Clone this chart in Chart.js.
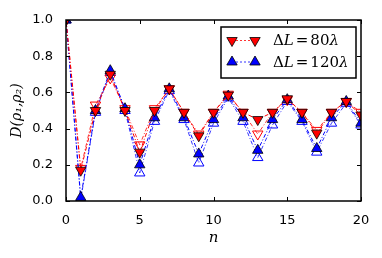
<!DOCTYPE html>
<html><head><meta charset="utf-8">
<script src="https://cdn.jsdelivr.net/npm/chart.js@4"></script>
<style>html,body{margin:0;padding:0;background:#fff}#wrap{width:382px;height:258px}</style>
</head><body><div id="wrap"><canvas id="c" width="382" height="258"></canvas></div>
<script>
const nValues = [0,1,2,3,4,5,6,7,8,9,10,11,12,13,14,15,16,17,18,19,20];
const red80Filled  = [1.0,0.17,0.50,0.70,0.50,0.27,0.50,0.62,0.49,0.36,0.49,0.585,0.49,0.45,0.49,0.565,0.49,0.375,0.49,0.55,0.475];
const red80Hollow  = [1.0,0.18,0.53,0.68,0.51,0.31,0.51,0.62,0.49,0.37,0.49,0.59,0.49,0.37,0.49,0.56,0.49,0.39,0.49,0.55,0.49];
const blue120Filled = [1.0,0.02,0.50,0.72,0.51,0.20,0.46,0.62,0.46,0.26,0.45,0.58,0.46,0.28,0.45,0.56,0.45,0.29,0.46,0.55,0.43];
const blue120Hollow = [1.0,0.01,0.49,0.71,0.50,0.155,0.44,0.61,0.45,0.21,0.43,0.57,0.44,0.24,0.42,0.55,0.44,0.27,0.43,0.54,0.42];
const yTicks = [0.0,0.2,0.4,0.6,0.8,1.0];
const xTicks = [0,5,10,15,20];
const legendLabels = [['Δ','L','=','80','λ'],['Δ','L','=','120','λ']];

const pts = arr => arr.map((v,i)=>({x:nValues[i],y:v}));
const dash = [4,2,1,2];
const R = 6;

function ds(data, color, filled, down, order){
  return {
    data: pts(data),
    borderColor: color,
    borderWidth: filled ? 1 : 0.8,
    borderDash: dash,
    pointStyle: 'triangle',
    pointRotation: down ? 180 : 0,
    pointRadius: R,
    pointBackgroundColor: filled ? color : 'rgba(255,255,255,0)',
    pointBorderColor: filled ? '#000' : color,
    pointBorderWidth: filled ? 0.8 : 1,
    fill: false,
    tension: 0,
    order: order
  };
}

const framePlugin = {
  id:'frame',
  afterDraw(chart){
    const {ctx, chartArea:a, scales} = chart;
    ctx.save();
    ctx.strokeStyle='#000';
    ctx.lineWidth=1;
    const tl=4;
    ctx.beginPath();
    xTicks.forEach(v=>{
      const px=Math.round(scales.x.getPixelForValue(v))+0.5;
      ctx.moveTo(px,a.bottom); ctx.lineTo(px,a.bottom-tl);
      ctx.moveTo(px,a.top); ctx.lineTo(px,a.top+tl);
    });
    yTicks.forEach(v=>{
      const py=Math.round(scales.y.getPixelForValue(v))+0.5;
      ctx.moveTo(a.left,py); ctx.lineTo(a.left+tl,py);
      ctx.moveTo(a.right,py); ctx.lineTo(a.right-tl,py);
    });
    ctx.stroke();
    ctx.lineWidth=1.5;
    ctx.strokeRect(a.left,a.top,a.right-a.left,a.bottom-a.top);
    // legend
    const bw=135, bh=51;
    const bx=a.right-5-bw, by=a.top+7;
    ctx.fillStyle='#fff';
    ctx.fillRect(bx,by,bw,bh);
    ctx.lineWidth=1.5;
    ctx.strokeRect(bx,by,bw,bh);
    const rows=[{c:'#ff0000',down:true},{c:'#0000ff',down:false}];
    rows.forEach((r,i)=>{
      const cy=by+13.5+i*21.5;
      const m1=bx+11, m2=bx+34;
      ctx.save();
      ctx.strokeStyle=r.c; ctx.lineWidth=0.8; ctx.setLineDash([2,2]);
      ctx.beginPath(); ctx.moveTo(m1,cy); ctx.lineTo(m2,cy); ctx.stroke();
      ctx.restore();
      ctx.save();
      ctx.fillStyle=r.c; ctx.strokeStyle='#000'; ctx.lineWidth=0.8;
      [m1,m2].forEach(mx=>{
        ctx.beginPath();
        Chart.helpers.drawPoint(ctx,{pointStyle:'triangle',rotation:r.down?180:0,radius:R,borderWidth:0.8},mx,cy);
      });
      ctx.restore();
      let tx=bx+52;
      ctx.fillStyle='#000';
      ctx.textBaseline='middle';
      const parts=legendLabels[i];
      const fonts=['15px "DejaVu Serif"','italic 15px "DejaVu Serif"','15px "DejaVu Serif"','15px "DejaVu Serif"','italic 15px "DejaVu Serif"'];
      const gaps=[0,0,2,2,0];
      parts.forEach((p,k)=>{
        tx+=gaps[k];
        ctx.font=fonts[k];
        ctx.fillText(p,tx,cy+1);
        tx+=ctx.measureText(p).width;
      });
    });
    ctx.restore();
  }
};

new Chart(document.getElementById('c'),{
  type:'line',
  data:{datasets:[
    ds(red80Filled,'#ff0000',true,true,1),
    ds(blue120Filled,'#0000ff',true,false,2),
    ds(red80Hollow,'#ff0000',false,true,3),
    ds(blue120Hollow,'#0000ff',false,false,4)
  ]},
  options:{
    responsive:false,
    animation:false,
    layout:{padding:{top:20,right:21,left:0,bottom:0}},
    plugins:{legend:{display:false},tooltip:{enabled:false}},
    scales:{
      x:{type:'linear',min:0,max:20,
        afterBuildTicks(s){s.ticks=xTicks.map(v=>({value:v}));},
        afterFit(s){s.height=57;},
        grid:{display:false},border:{display:false},
        ticks:{color:'#000',font:{family:'DejaVu Sans',size:13},padding:4,maxRotation:0,callback:v=>String(v)},
        title:{display:true,text:'n',color:'#000',font:{family:'DejaVu Serif',style:'italic',size:15},padding:{top:2,bottom:11}}
      },
      y:{type:'linear',min:0,max:1,
        afterBuildTicks(s){s.ticks=yTicks.map(v=>({value:v}));},
        afterFit(s){s.width=66;},
        grid:{display:false},border:{display:false},
        ticks:{color:'#000',font:{family:'DejaVu Sans',size:13},padding:5,callback:v=>Number(v).toFixed(1)},
        title:{display:true,text:'D(ρ₁,ρ₂)',color:'#000',font:{family:'DejaVu Serif',style:'italic',size:14},padding:{top:9,bottom:0}}
      }
    }
  },
  plugins:[framePlugin]
});
</script></body></html>
